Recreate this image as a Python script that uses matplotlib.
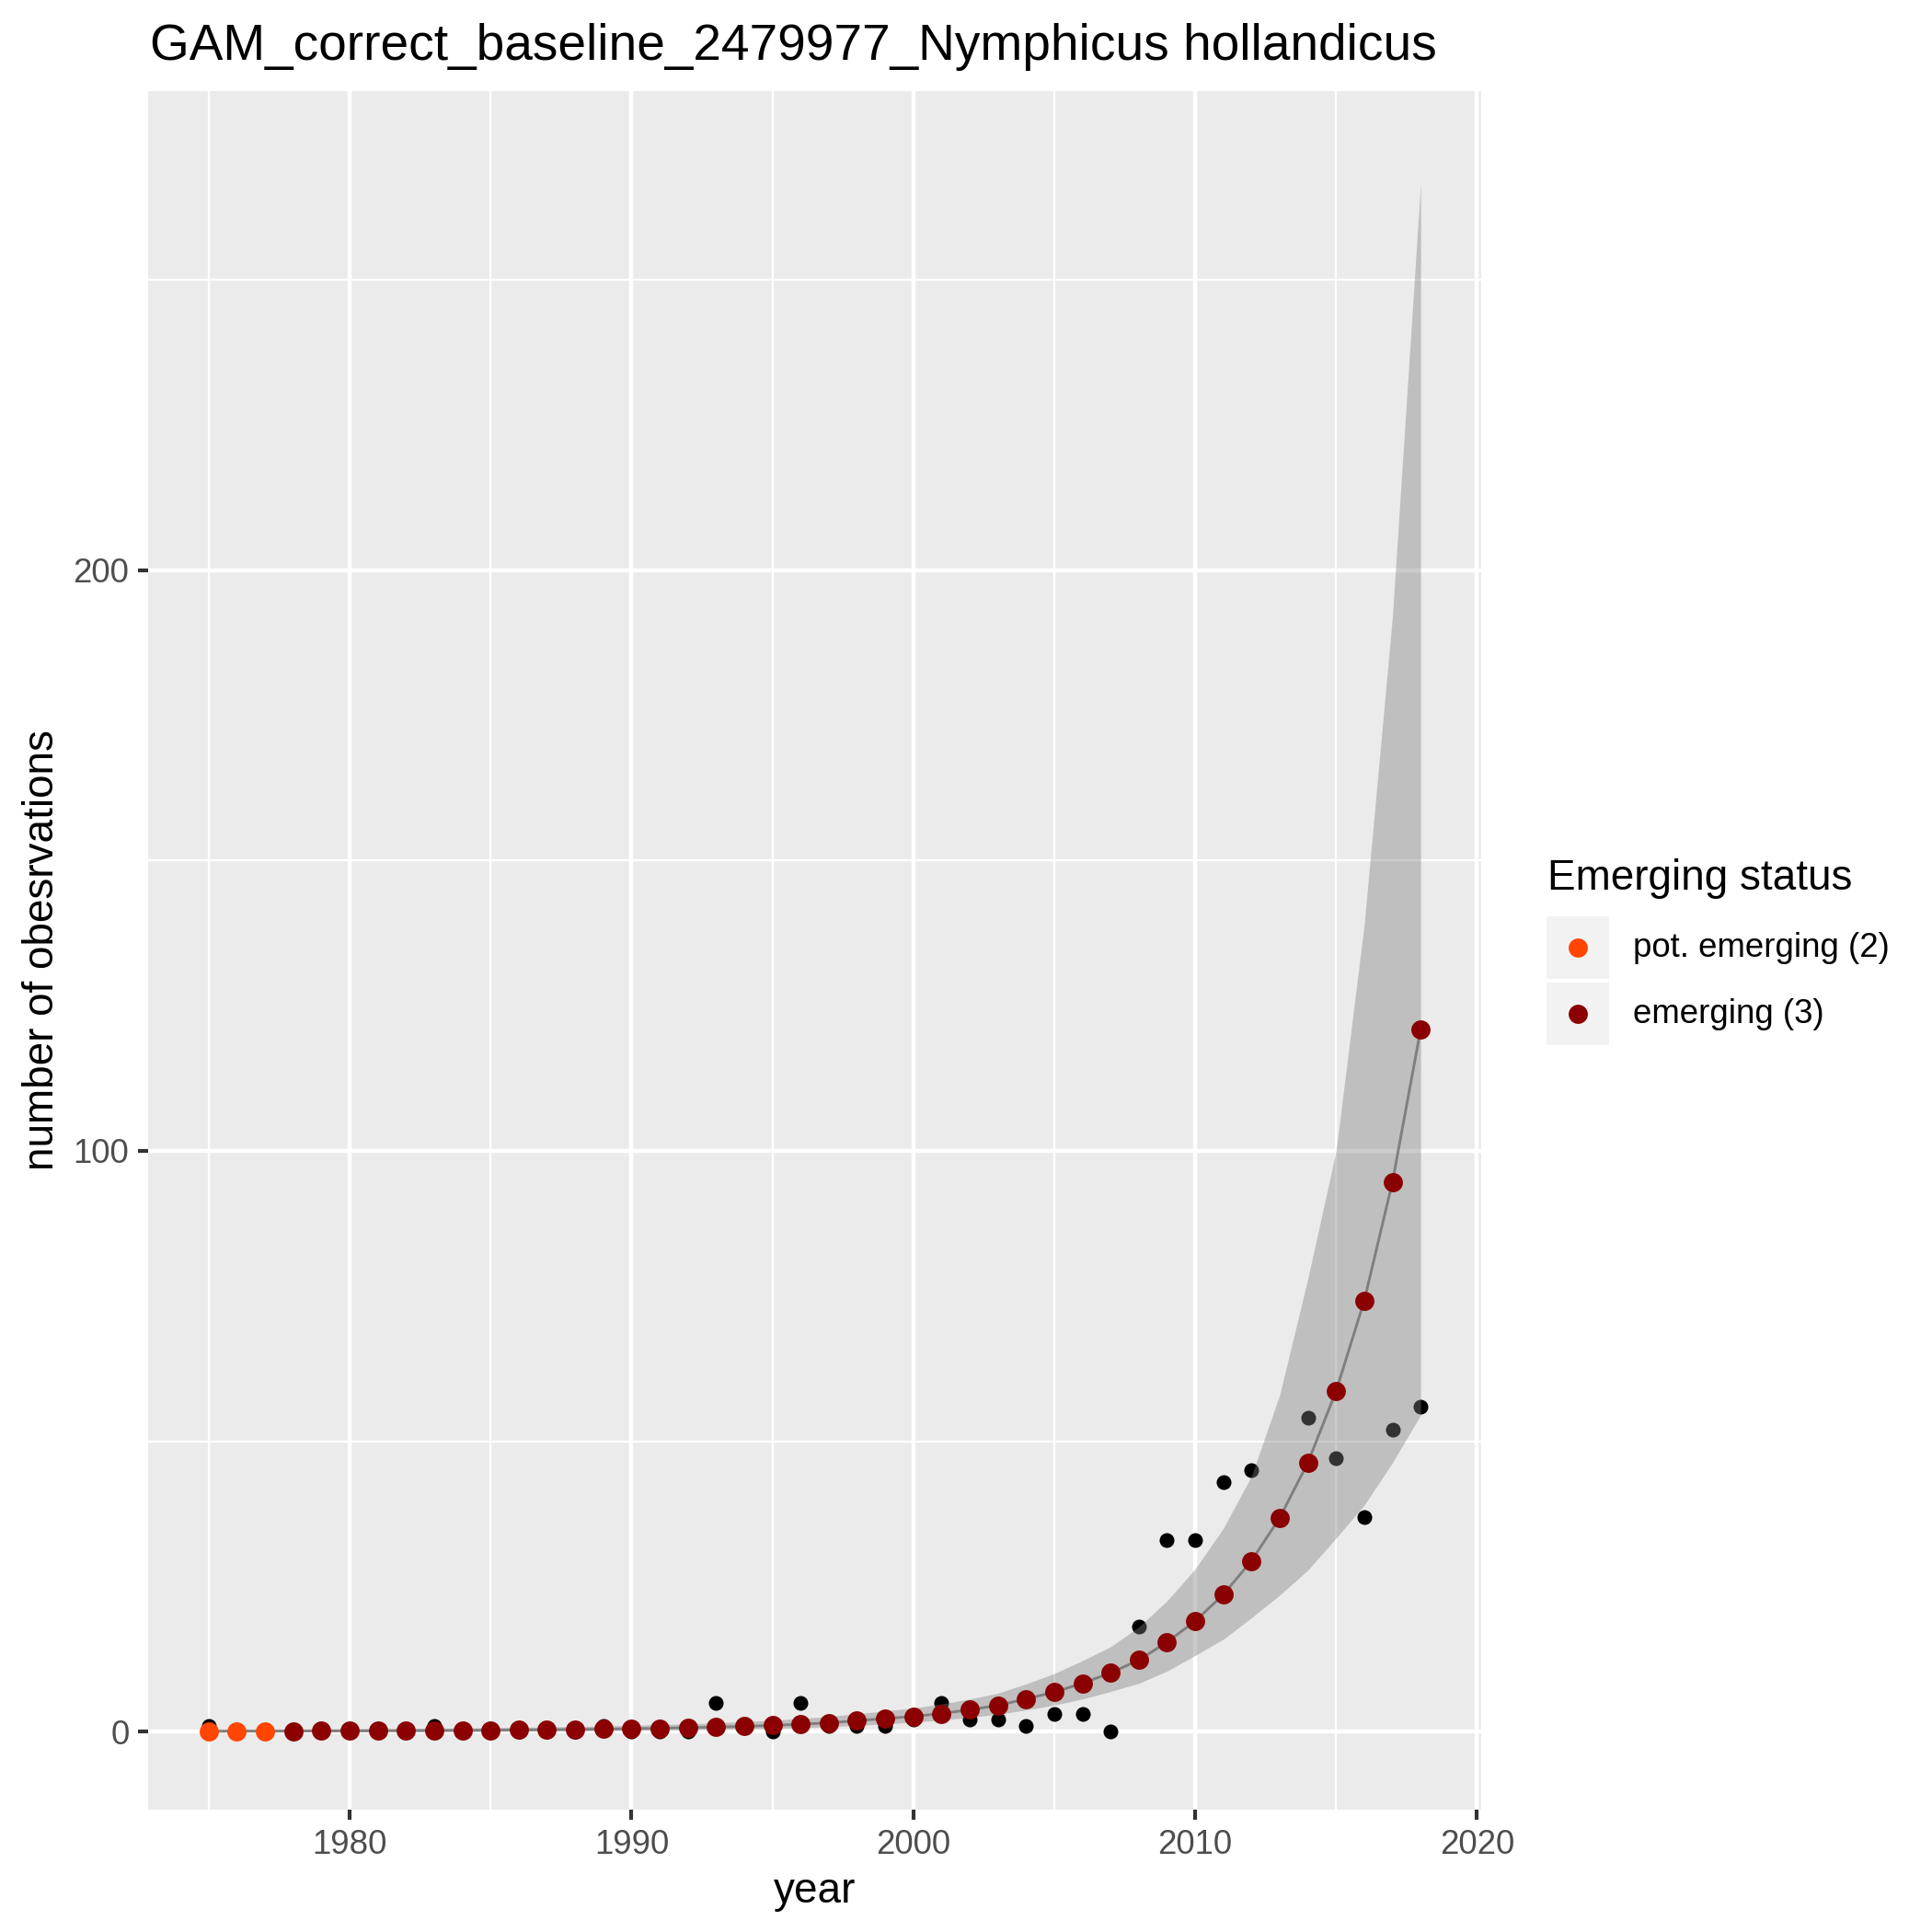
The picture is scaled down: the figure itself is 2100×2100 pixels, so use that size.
import matplotlib
matplotlib.use("Agg")
import matplotlib.pyplot as plt
from matplotlib.lines import Line2D
from matplotlib.patches import Rectangle

plt.rcParams['font.family'] = ['Liberation Sans', 'DejaVu Sans']

# data
years = list(range(1975, 2019))
observed = [1, 0, 0, 0, 0, 0, 0, 0, 1, 0,
            0, 0, 0, 0, 1, 0, 0, 0, 5, 1,
            0, 5, 1, 1, 1, 2, 5, 2, 2, 1,
            3, 3, 0, 18, 33, 33, 43, 45, 37, 54,
            47, 37, 52, 56]
fitted = [0.05, 0.06, 0.07, 0.08, 0.10, 0.11, 0.13, 0.15, 0.17, 0.20,
          0.23, 0.27, 0.31, 0.36, 0.42, 0.49, 0.57, 0.66, 0.77, 0.90,
          1.05, 1.25, 1.50, 1.85, 2.25, 2.60, 3.10, 3.75, 4.50, 5.60,
          6.8, 8.3, 10.1, 12.3, 15.4, 19.0, 23.6, 29.4, 36.8, 46.3,
          58.6, 74.2, 94.6, 120.9]
lower = [0.00, 0.00, 0.01, 0.01, 0.01, 0.02, 0.02, 0.03, 0.04, 0.05,
         0.06, 0.08, 0.10, 0.12, 0.15, 0.19, 0.23, 0.28, 0.35, 0.43,
         0.53, 0.66, 0.83, 1.05, 1.32, 1.62, 1.98, 2.45, 2.98, 3.7,
         4.55, 5.6, 6.9, 8.3, 10.4, 13.1, 15.9, 19.6, 23.5, 27.8,
         33.3, 39.0, 46.3, 54.5]
upper = [0.45, 0.45, 0.45, 0.46, 0.48, 0.50, 0.52, 0.55, 0.58, 0.62,
         0.67, 0.73, 0.80, 0.88, 0.97, 1.08, 1.20, 1.34, 1.50, 1.70,
         1.95, 2.25, 2.60, 3.05, 3.55, 4.05, 4.75, 5.60, 6.60, 8.2,
         10.0, 12.2, 14.6, 18.0, 22.5, 28.0, 35.0, 44.0, 58.0, 78.0,
         100.0, 139.0, 192.0, 266.5]
status = [2, 2, 2, 3, 3, 3, 3, 3, 3, 3,
          3, 3, 3, 3, 3, 3, 3, 3, 3, 3,
          3, 3, 3, 3, 3, 3, 3, 3, 3, 3,
          3, 3, 3, 3, 3, 3, 3, 3, 3, 3,
          3, 3, 3, 3]
status_labels = {2: "pot. emerging (2)", 3: "emerging (3)"}
status_colors = {2: "#FF4500", 3: "#8B0000"}

title = "GAM_correct_baseline_2479977_Nymphicus hollandicus"

fig = plt.figure(figsize=(7, 7), dpi=300)
ax = fig.add_axes([161 / 2100, 1 - 1967 / 2100, (1610 - 161) / 2100, (1967 - 99) / 2100])
ax.set_facecolor("#EBEBEB")

# observed counts below the band
ax.scatter(years, observed, s=3.85 ** 2, color="black", linewidths=0, zorder=2)
ax.fill_between(years, lower, upper, color="#7F7F7F", alpha=0.4, linewidth=0, zorder=3)
ax.plot(years, fitted, color="#7F7F7F", lw=0.7, zorder=4)
for st in [2, 3]:
    xs = [y for y, s in zip(years, status) if s == st]
    vs = [f for f, s in zip(fitted, status) if s == st]
    ax.scatter(xs, vs, s=5.0 ** 2, color=status_colors[st], linewidths=0, zorder=5)

ax.margins(x=0.05)
ax.set_ylim(-13.45, 282.5)
ax.set_xticks([1980, 1990, 2000, 2010, 2020])
ax.set_xticks([1975, 1985, 1995, 2005, 2015], minor=True)
ax.set_yticks([0, 100, 200])
ax.set_yticks([50, 150, 250], minor=True)
ax.grid(which="major", color="white", lw=1.07)
ax.grid(which="minor", color="white", lw=0.53)
ax.set_axisbelow(True)
for sp in ax.spines.values():
    sp.set_visible(False)
ax.tick_params(which="major", length=2.75, width=1.0, color="#333333",
               labelsize=8.8, labelcolor="#4D4D4D", pad=2.2)
ax.tick_params(which="minor", length=0)

ax.set_xlabel("year", fontsize=11, labelpad=2.75)
ax.set_ylabel("number of obesrvations", fontsize=11, labelpad=2.75)
fig.text(163 / 2100, 1 - 65 / 2100, title, fontsize=13.2, ha="left", va="baseline")

# legend drawn by hand to get the grey key boxes
fig.text(1682 / 2100, 1 - 967 / 2100, "Emerging status", fontsize=11, ha="left", va="baseline")
for i, st in enumerate([2, 3]):
    top = 996 + i * 72
    fig.patches.append(Rectangle((1681 / 2100, 1 - (top + 68) / 2100), 68 / 2100, 68 / 2100,
                                 transform=fig.transFigure, facecolor="#F2F2F2", edgecolor="none"))
    fig.lines.append(Line2D([1715 / 2100], [1 - (top + 34) / 2100], transform=fig.transFigure,
                            marker="o", ms=5.0, mew=0, color=status_colors[st], linestyle="none"))
    fig.text(1775 / 2100, 1 - (top + 34) / 2100, status_labels[st], fontsize=8.8,
             ha="left", va="center")

fig.savefig("out.png", dpi=300)
